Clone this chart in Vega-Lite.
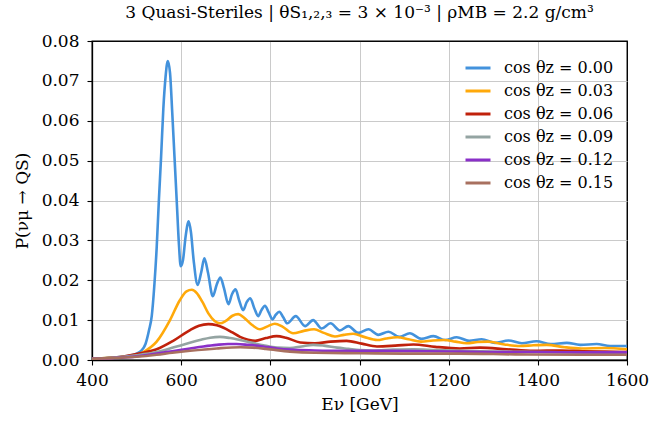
{
  "$schema": "https://vega.github.io/schema/vega-lite/v6.json",
  "width": 535,
  "height": 319,
  "autosize": "none",
  "padding": {"left": 92, "top": 41, "right": 31, "bottom": 62},
  "background": "white",
  "title": {"text": "3 Quasi-Steriles | θS₁,₂,₃ = 3 × 10⁻³ | ρMB = 2.2 g/cm³", "font": "DejaVu Serif", "fontSize": 17, "fontWeight": "normal", "color": "black", "offset": 10, "anchor": "middle"},
  "config": {
    "font": "DejaVu Serif",
    "view": {"stroke": "black", "strokeWidth": 1.3},
    "axis": {"labelFont": "DejaVu Serif", "titleFont": "DejaVu Serif", "labelFontSize": 17, "titleFontSize": 17, "titleFontWeight": "normal", "labelColor": "black", "titleColor": "black", "domainColor": "black", "tickColor": "black", "tickSize": 5, "tickWidth": 1.1, "gridWidth": 0.9, "domainWidth": 1.3, "labelFlush": false, "labelOverlap": false},
    "legend": {"labelFont": "DejaVu Serif"}
  },
  "datasets": {
    "curves": [
      {"s": "0.00", "E": 400, "P": 0.0003}, {"s": "0.00", "E": 450, "P": 0.0006}, {"s": "0.00", "E": 480, "P": 0.001}, {"s": "0.00", "E": 500, "P": 0.0016}, {"s": "0.00", "E": 510, "P": 0.0023}, {"s": "0.00", "E": 520, "P": 0.004}, {"s": "0.00", "E": 528, "P": 0.0075}, {"s": "0.00", "E": 534, "P": 0.011}, {"s": "0.00", "E": 540, "P": 0.019}, {"s": "0.00", "E": 545, "P": 0.028}, {"s": "0.00", "E": 550, "P": 0.04}, {"s": "0.00", "E": 555, "P": 0.051}, {"s": "0.00", "E": 560, "P": 0.063}, {"s": "0.00", "E": 565, "P": 0.071}, {"s": "0.00", "E": 570, "P": 0.075}, {"s": "0.00", "E": 575, "P": 0.072}, {"s": "0.00", "E": 580, "P": 0.062}, {"s": "0.00", "E": 585, "P": 0.051}, {"s": "0.00", "E": 590, "P": 0.04}, {"s": "0.00", "E": 595, "P": 0.029}, {"s": "0.00", "E": 599, "P": 0.0235}, {"s": "0.00", "E": 604, "P": 0.025}, {"s": "0.00", "E": 610, "P": 0.031}, {"s": "0.00", "E": 617, "P": 0.0348}, {"s": "0.00", "E": 622, "P": 0.032}, {"s": "0.00", "E": 628, "P": 0.025}, {"s": "0.00", "E": 637, "P": 0.0188}, {"s": "0.00", "E": 645, "P": 0.022}, {"s": "0.00", "E": 652, "P": 0.0255}, {"s": "0.00", "E": 660, "P": 0.022}, {"s": "0.00", "E": 671, "P": 0.016}, {"s": "0.00", "E": 680, "P": 0.019}, {"s": "0.00", "E": 688, "P": 0.0207}, {"s": "0.00", "E": 696, "P": 0.018}, {"s": "0.00", "E": 706, "P": 0.014}, {"s": "0.00", "E": 714, "P": 0.0165}, {"s": "0.00", "E": 722, "P": 0.0177}, {"s": "0.00", "E": 730, "P": 0.015}, {"s": "0.00", "E": 739, "P": 0.0125}, {"s": "0.00", "E": 747, "P": 0.0145}, {"s": "0.00", "E": 755, "P": 0.0155}, {"s": "0.00", "E": 764, "P": 0.013}, {"s": "0.00", "E": 773, "P": 0.011}, {"s": "0.00", "E": 780, "P": 0.0125}, {"s": "0.00", "E": 788, "P": 0.0136}, {"s": "0.00", "E": 796, "P": 0.012}, {"s": "0.00", "E": 805, "P": 0.0102}, {"s": "0.00", "E": 812, "P": 0.0113}, {"s": "0.00", "E": 820, "P": 0.0121}, {"s": "0.00", "E": 829, "P": 0.0107}, {"s": "0.00", "E": 838, "P": 0.0092}, {"s": "0.00", "E": 857, "P": 0.011}, {"s": "0.00", "E": 878, "P": 0.0085}, {"s": "0.00", "E": 896, "P": 0.01}, {"s": "0.00", "E": 915, "P": 0.0079}, {"s": "0.00", "E": 935, "P": 0.0092}, {"s": "0.00", "E": 956, "P": 0.0074}, {"s": "0.00", "E": 975, "P": 0.0085}, {"s": "0.00", "E": 997, "P": 0.0068}, {"s": "0.00", "E": 1020, "P": 0.0077}, {"s": "0.00", "E": 1042, "P": 0.0063}, {"s": "0.00", "E": 1065, "P": 0.0071}, {"s": "0.00", "E": 1089, "P": 0.0058}, {"s": "0.00", "E": 1113, "P": 0.0067}, {"s": "0.00", "E": 1139, "P": 0.0053}, {"s": "0.00", "E": 1166, "P": 0.006}, {"s": "0.00", "E": 1192, "P": 0.005}, {"s": "0.00", "E": 1218, "P": 0.0057}, {"s": "0.00", "E": 1246, "P": 0.0048}, {"s": "0.00", "E": 1274, "P": 0.0052}, {"s": "0.00", "E": 1304, "P": 0.0043}, {"s": "0.00", "E": 1334, "P": 0.0049}, {"s": "0.00", "E": 1364, "P": 0.0042}, {"s": "0.00", "E": 1397, "P": 0.0047}, {"s": "0.00", "E": 1429, "P": 0.004}, {"s": "0.00", "E": 1465, "P": 0.0043}, {"s": "0.00", "E": 1495, "P": 0.0038}, {"s": "0.00", "E": 1532, "P": 0.004}, {"s": "0.00", "E": 1562, "P": 0.0035}, {"s": "0.00", "E": 1600, "P": 0.0035},

      {"s": "0.03", "E": 400, "P": 0.0003}, {"s": "0.03", "E": 450, "P": 0.0006}, {"s": "0.03", "E": 485, "P": 0.001}, {"s": "0.03", "E": 515, "P": 0.002}, {"s": "0.03", "E": 545, "P": 0.0046}, {"s": "0.03", "E": 575, "P": 0.01}, {"s": "0.03", "E": 597, "P": 0.015}, {"s": "0.03", "E": 612, "P": 0.0172}, {"s": "0.03", "E": 624, "P": 0.0176}, {"s": "0.03", "E": 635, "P": 0.0168}, {"s": "0.03", "E": 648, "P": 0.0145}, {"s": "0.03", "E": 661, "P": 0.0117}, {"s": "0.03", "E": 675, "P": 0.0098}, {"s": "0.03", "E": 687, "P": 0.0092}, {"s": "0.03", "E": 700, "P": 0.0098}, {"s": "0.03", "E": 715, "P": 0.0111}, {"s": "0.03", "E": 728, "P": 0.0115}, {"s": "0.03", "E": 742, "P": 0.0105}, {"s": "0.03", "E": 760, "P": 0.0087}, {"s": "0.03", "E": 777, "P": 0.0077}, {"s": "0.03", "E": 795, "P": 0.0085}, {"s": "0.03", "E": 810, "P": 0.0091}, {"s": "0.03", "E": 828, "P": 0.0083}, {"s": "0.03", "E": 851, "P": 0.0067}, {"s": "0.03", "E": 875, "P": 0.0073}, {"s": "0.03", "E": 898, "P": 0.0077}, {"s": "0.03", "E": 920, "P": 0.0068}, {"s": "0.03", "E": 945, "P": 0.0059}, {"s": "0.03", "E": 965, "P": 0.0063}, {"s": "0.03", "E": 986, "P": 0.0066}, {"s": "0.03", "E": 1010, "P": 0.0058}, {"s": "0.03", "E": 1040, "P": 0.005}, {"s": "0.03", "E": 1060, "P": 0.0054}, {"s": "0.03", "E": 1085, "P": 0.0057}, {"s": "0.03", "E": 1110, "P": 0.0052}, {"s": "0.03", "E": 1138, "P": 0.0046}, {"s": "0.03", "E": 1165, "P": 0.0049}, {"s": "0.03", "E": 1190, "P": 0.005}, {"s": "0.03", "E": 1215, "P": 0.0046}, {"s": "0.03", "E": 1240, "P": 0.0042}, {"s": "0.03", "E": 1265, "P": 0.0045}, {"s": "0.03", "E": 1288, "P": 0.0046}, {"s": "0.03", "E": 1325, "P": 0.0039}, {"s": "0.03", "E": 1360, "P": 0.0035}, {"s": "0.03", "E": 1390, "P": 0.0037}, {"s": "0.03", "E": 1420, "P": 0.0038}, {"s": "0.03", "E": 1460, "P": 0.0032}, {"s": "0.03", "E": 1497, "P": 0.0029}, {"s": "0.03", "E": 1550, "P": 0.003}, {"s": "0.03", "E": 1600, "P": 0.0027},

      {"s": "0.06", "E": 400, "P": 0.0003}, {"s": "0.06", "E": 450, "P": 0.0006}, {"s": "0.06", "E": 508, "P": 0.0017}, {"s": "0.06", "E": 545, "P": 0.0027}, {"s": "0.06", "E": 582, "P": 0.0048}, {"s": "0.06", "E": 620, "P": 0.0075}, {"s": "0.06", "E": 640, "P": 0.0086}, {"s": "0.06", "E": 661, "P": 0.009}, {"s": "0.06", "E": 680, "P": 0.0087}, {"s": "0.06", "E": 695, "P": 0.0081}, {"s": "0.06", "E": 715, "P": 0.0069}, {"s": "0.06", "E": 732, "P": 0.0058}, {"s": "0.06", "E": 750, "P": 0.0051}, {"s": "0.06", "E": 766, "P": 0.0048}, {"s": "0.06", "E": 790, "P": 0.0055}, {"s": "0.06", "E": 814, "P": 0.006}, {"s": "0.06", "E": 835, "P": 0.0056}, {"s": "0.06", "E": 867, "P": 0.0044}, {"s": "0.06", "E": 900, "P": 0.0042}, {"s": "0.06", "E": 935, "P": 0.0046}, {"s": "0.06", "E": 971, "P": 0.0048}, {"s": "0.06", "E": 1005, "P": 0.0041}, {"s": "0.06", "E": 1039, "P": 0.0034}, {"s": "0.06", "E": 1080, "P": 0.0036}, {"s": "0.06", "E": 1121, "P": 0.0039}, {"s": "0.06", "E": 1170, "P": 0.0033}, {"s": "0.06", "E": 1225, "P": 0.0029}, {"s": "0.06", "E": 1270, "P": 0.0031}, {"s": "0.06", "E": 1330, "P": 0.0027}, {"s": "0.06", "E": 1390, "P": 0.0023}, {"s": "0.06", "E": 1450, "P": 0.0024}, {"s": "0.06", "E": 1500, "P": 0.0022}, {"s": "0.06", "E": 1550, "P": 0.0021}, {"s": "0.06", "E": 1600, "P": 0.002},

      {"s": "0.09", "E": 400, "P": 0.0003}, {"s": "0.09", "E": 450, "P": 0.0006}, {"s": "0.09", "E": 500, "P": 0.0012}, {"s": "0.09", "E": 545, "P": 0.002}, {"s": "0.09", "E": 590, "P": 0.0034}, {"s": "0.09", "E": 642, "P": 0.005}, {"s": "0.09", "E": 665, "P": 0.0056}, {"s": "0.09", "E": 687, "P": 0.0058}, {"s": "0.09", "E": 710, "P": 0.0055}, {"s": "0.09", "E": 732, "P": 0.005}, {"s": "0.09", "E": 760, "P": 0.0043}, {"s": "0.09", "E": 784, "P": 0.0037}, {"s": "0.09", "E": 815, "P": 0.0031}, {"s": "0.09", "E": 844, "P": 0.003}, {"s": "0.09", "E": 870, "P": 0.0034}, {"s": "0.09", "E": 896, "P": 0.0038}, {"s": "0.09", "E": 920, "P": 0.0036}, {"s": "0.09", "E": 950, "P": 0.0031}, {"s": "0.09", "E": 975, "P": 0.0028}, {"s": "0.09", "E": 1000, "P": 0.0025}, {"s": "0.09", "E": 1030, "P": 0.0024}, {"s": "0.09", "E": 1075, "P": 0.0026}, {"s": "0.09", "E": 1121, "P": 0.0027}, {"s": "0.09", "E": 1170, "P": 0.0025}, {"s": "0.09", "E": 1225, "P": 0.0023}, {"s": "0.09", "E": 1300, "P": 0.0021}, {"s": "0.09", "E": 1400, "P": 0.002}, {"s": "0.09", "E": 1500, "P": 0.0019}, {"s": "0.09", "E": 1600, "P": 0.0018},

      {"s": "0.12", "E": 400, "P": 0.0003}, {"s": "0.12", "E": 450, "P": 0.0005}, {"s": "0.12", "E": 500, "P": 0.0009}, {"s": "0.12", "E": 545, "P": 0.0016}, {"s": "0.12", "E": 580, "P": 0.0022}, {"s": "0.12", "E": 620, "P": 0.0029}, {"s": "0.12", "E": 650, "P": 0.0034}, {"s": "0.12", "E": 680, "P": 0.0038}, {"s": "0.12", "E": 705, "P": 0.004}, {"s": "0.12", "E": 724, "P": 0.004}, {"s": "0.12", "E": 750, "P": 0.0038}, {"s": "0.12", "E": 784, "P": 0.0034}, {"s": "0.12", "E": 815, "P": 0.0029}, {"s": "0.12", "E": 844, "P": 0.0026}, {"s": "0.12", "E": 900, "P": 0.0024}, {"s": "0.12", "E": 960, "P": 0.0023}, {"s": "0.12", "E": 1050, "P": 0.0023}, {"s": "0.12", "E": 1150, "P": 0.0022}, {"s": "0.12", "E": 1225, "P": 0.0021}, {"s": "0.12", "E": 1300, "P": 0.002}, {"s": "0.12", "E": 1400, "P": 0.002}, {"s": "0.12", "E": 1500, "P": 0.0019}, {"s": "0.12", "E": 1600, "P": 0.0019},

      {"s": "0.15", "E": 400, "P": 0.0003}, {"s": "0.15", "E": 450, "P": 0.0005}, {"s": "0.15", "E": 500, "P": 0.0008}, {"s": "0.15", "E": 545, "P": 0.0013}, {"s": "0.15", "E": 580, "P": 0.0018}, {"s": "0.15", "E": 620, "P": 0.0023}, {"s": "0.15", "E": 680, "P": 0.0029}, {"s": "0.15", "E": 732, "P": 0.0032}, {"s": "0.15", "E": 760, "P": 0.0031}, {"s": "0.15", "E": 790, "P": 0.0028}, {"s": "0.15", "E": 844, "P": 0.0021}, {"s": "0.15", "E": 900, "P": 0.0018}, {"s": "0.15", "E": 1000, "P": 0.0017}, {"s": "0.15", "E": 1100, "P": 0.0016}, {"s": "0.15", "E": 1225, "P": 0.0016}, {"s": "0.15", "E": 1350, "P": 0.0014}, {"s": "0.15", "E": 1500, "P": 0.0013}, {"s": "0.15", "E": 1600, "P": 0.0013}
    ]
  },
  "data": {"name": "curves"},
  "mark": {"type": "line", "interpolate": "monotone", "strokeWidth": 2.6, "clip": true},
  "encoding": {
    "x": {"field": "E", "type": "quantitative", "scale": {"domain": [400, 1600], "nice": false, "zero": false},
      "axis": {"values": [400, 600, 800, 1000, 1200, 1400, 1600], "format": "d", "title": "Eν [GeV]", "labelFont": "DejaVu Serif", "titleFont": "DejaVu Serif", "labelPadding": 7, "titlePadding": 8,
        "gridColor": {"condition": {"test": "datum.value == 400 || datum.value == 1600", "value": "black"}, "value": "#c4c4c4"}}},
    "y": {"field": "P", "type": "quantitative", "scale": {"domain": [0, 0.08], "nice": false},
      "axis": {"values": [0, 0.01, 0.02, 0.03, 0.04, 0.05, 0.06, 0.07, 0.08], "format": ".2f", "title": "P(νμ → QS)", "labelFont": "DejaVu Serif", "titleFont": "DejaVu Serif", "labelPadding": 8, "titlePadding": 10,
        "gridColor": {"condition": {"test": "datum.value == 0 || datum.value == 0.08", "value": "black"}, "value": "#c4c4c4"}}},
    "color": {"field": "s", "type": "nominal",
      "scale": {"domain": ["0.00", "0.03", "0.06", "0.09", "0.12", "0.15"], "range": ["#4392dc", "#ffa90a", "#c0210b", "#94a4a2", "#8a30c8", "#a8705f"]},
      "legend": {"title": null, "orient": "none", "legendX": 372, "legendY": 13, "symbolType": "stroke", "symbolSize": 625, "symbolStrokeWidth": 3, "labelFont": "DejaVu Serif", "labelFontSize": 16, "labelColor": "black", "rowPadding": 1, "labelOffset": 12,
        "labelExpr": "'cos θz = ' + datum.label"}}
  }
}
